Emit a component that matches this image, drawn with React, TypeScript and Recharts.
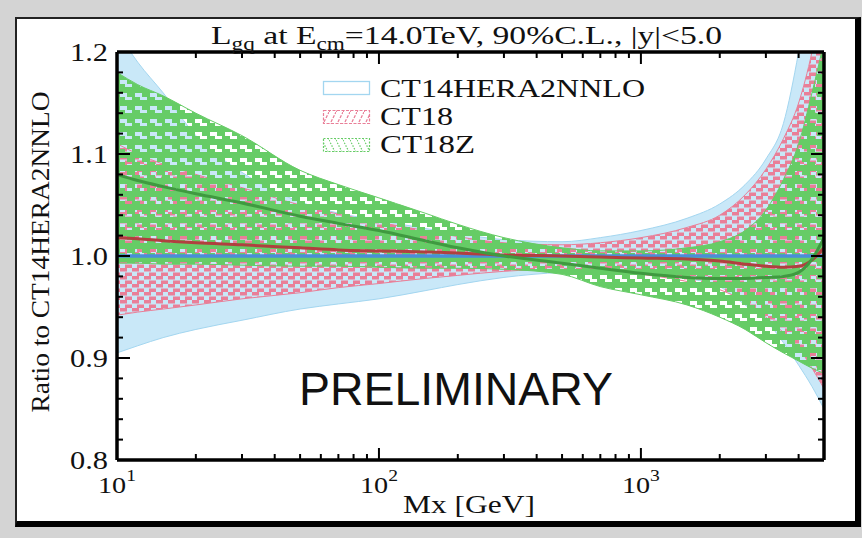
import React from 'react';
import { ComposedChart, Area, Line, XAxis, YAxis } from 'recharts';

// ---------- data ----------
const mx = [10, 12, 15, 20, 30, 50, 70, 100, 150, 200, 300, 500, 700, 1000, 1500, 2000, 2500, 3000, 3500, 4000, 4500, 5000];

const ct14Up = [1.22, 1.19, 1.16, 1.118, 1.082, 1.053, 1.042, 1.035, 1.027, 1.022, 1.016, 1.014, 1.018, 1.025, 1.037, 1.051, 1.07, 1.095, 1.13, 1.2, 1.28, 1.36];
const ct14Lo = [0.905, 0.912, 0.92, 0.928, 0.937, 0.948, 0.953, 0.958, 0.966, 0.972, 0.979, 0.984, 0.985, 0.983, 0.978, 0.97, 0.952, 0.937, 0.915, 0.893, 0.872, 0.85];
const ct14Mid = [1.0, 1.0, 1.0, 1.0, 1.0, 1.0, 1.0, 1.0, 1.0, 1.0, 1.0, 1.0, 1.0, 1.0, 1.0, 1.0, 1.0, 1.0, 1.0, 1.0, 1.0, 1.0];

const ct18Up = [1.11, 1.1, 1.09, 1.08, 1.067, 1.05, 1.041, 1.033, 1.025, 1.019, 1.013, 1.011, 1.013, 1.018, 1.028, 1.04, 1.06, 1.085, 1.115, 1.15, 1.2, 1.26];
const ct18Lo = [0.942, 0.945, 0.948, 0.952, 0.958, 0.964, 0.969, 0.973, 0.978, 0.981, 0.985, 0.987, 0.986, 0.982, 0.975, 0.967, 0.955, 0.94, 0.925, 0.91, 0.89, 0.87];
const ct18Mid = [1.018, 1.017, 1.015, 1.013, 1.011, 1.008, 1.006, 1.005, 1.004, 1.003, 1.001, 1.0, 0.999, 0.998, 0.997, 0.995, 0.992, 0.99, 0.989, 0.99, 0.996, 1.008];

const ct18zUp = [1.18, 1.168, 1.157, 1.14, 1.118, 1.084, 1.07, 1.057, 1.042, 1.031, 1.018, 1.008, 1.005, 1.005, 1.008, 1.014, 1.025, 1.045, 1.075, 1.11, 1.16, 1.21];
const ct18zLo = [0.993, 0.993, 0.992, 0.992, 0.991, 0.99, 0.99, 0.989, 0.988, 0.988, 0.987, 0.982, 0.97, 0.962, 0.952, 0.94, 0.928, 0.915, 0.905, 0.897, 0.89, 0.885];
const ct18zMid = [1.08, 1.074, 1.068, 1.061, 1.052, 1.039, 1.032, 1.025, 1.015, 1.008, 1.0, 0.993, 0.988, 0.983, 0.979, 0.978, 0.978, 0.979, 0.98, 0.984, 0.997, 1.018];

const xMajorTicks = [10, 100, 1000];
const xMajorExp = ['1', '2', '3'];
const xMinorTicks = [20, 30, 40, 50, 60, 70, 80, 90, 200, 300, 400, 500, 600, 700, 800, 900, 2000, 3000, 4000];
const yMajorTicks = [0.8, 0.9, 1.0, 1.1, 1.2];
const yTickLabels = ['0.8', '0.9', '1.0', '1.1', '1.2'];
const yMinorTicks = [0.82, 0.84, 0.86, 0.88, 0.92, 0.94, 0.96, 0.98, 1.02, 1.04, 1.06, 1.08, 1.12, 1.14, 1.16, 1.18];

const legendNames = ['CT14HERA2NNLO', 'CT18', 'CT18Z'];
const titleParts = ['L', 'gq', ' at E', 'cm', '=14.0TeV, 90%C.L., |y|<5.0'];
const yLabel = 'Ratio to CT14HERA2NNLO';
const xLabel = 'Mx [GeV]';
const watermark = 'PRELIMINARY';

const rows = mx.map((m, i) => ({
  mx: m,
  ct14Band: [ct14Lo[i], ct14Up[i]],
  ct18Band: [ct18Lo[i], ct18Up[i]],
  ct18zBand: [ct18zLo[i], ct18zUp[i]],
  ct14: ct14Mid[i],
  ct18: ct18Mid[i],
  ct18z: ct18zMid[i],
}));

const xTicks = [...xMajorTicks, ...xMinorTicks];
const yTicks = [...yMajorTicks, ...yMinorTicks];

const SERIF = '"Liberation Serif", "Times New Roman", Times, serif';
const SANS = '"Liberation Sans", Arial, sans-serif';

const BLUE_FILL = '#c9e8f8';
const BLUE_EDGE = '#a3d6f0';
const PINK = '#e97f98';
const GREEN = '#66cc66';

// ---------- tick renderers ----------
function BottomTick(props: any) {
  const { x, y, payload } = props;
  const i = xMajorTicks.indexOf(payload.value);
  const major = i >= 0;
  return (
    <g>
      <line x1={x} x2={x} y1={y} y2={y - (major ? 12 : 6)} stroke="#000" strokeWidth={2} />
      {major && (
        <text x={x} y={y + 33} textAnchor="middle" fontFamily={SERIF} fontSize={23} fill="#111"
          textLength={38} lengthAdjust="spacingAndGlyphs">
          10<tspan dy={-12} fontSize={16}>{xMajorExp[i]}</tspan>
        </text>
      )}
    </g>
  );
}

function TopTick(props: any) {
  const { x, y, payload } = props;
  const major = xMajorTicks.indexOf(payload.value) >= 0;
  return <line x1={x} x2={x} y1={y} y2={y + (major ? 12 : 6)} stroke="#000" strokeWidth={2} />;
}

function LeftTick(props: any) {
  const { x, y, payload } = props;
  const i = yMajorTicks.indexOf(payload.value);
  const major = i >= 0;
  return (
    <g>
      <line x1={x} x2={x + (major ? 13 : 6)} y1={y} y2={y} stroke="#000" strokeWidth={2} />
      {major && (
        <text x={x - 9} y={y + 9} textAnchor="end" fontFamily={SERIF} fontSize={26} fill="#111"
          textLength={38} lengthAdjust="spacingAndGlyphs">
          {yTickLabels[i]}
        </text>
      )}
    </g>
  );
}

function RightTick(props: any) {
  const { x, y, payload } = props;
  const major = yMajorTicks.indexOf(payload.value) >= 0;
  return <line x1={x} x2={x - (major ? 13 : 6)} y1={y} y2={y} stroke="#000" strokeWidth={2} />;
}

// ---------- component ----------
export default function App() {
  const axisLine = { stroke: '#000', strokeWidth: 3.5 };
  return (
    <div style={{ position: 'absolute', left: 0, top: 0, width: 862, height: 538, background: '#d4d4d4', overflow: 'hidden' }}>
      <div style={{
        position: 'absolute', left: 15, top: 17, width: 846, height: 510, boxSizing: 'border-box',
        background: '#fff', borderTop: '2px solid #222', borderLeft: '2px solid #222',
        borderRight: '6px solid #000', borderBottom: '6px solid #000',
      }} />
      <div style={{ position: 'absolute', left: 0, top: 0 }}>
        <ComposedChart width={862} height={538} data={rows}
          margin={{ top: 42, right: 28, bottom: 48, left: 57 }}>
          <defs>
            <pattern id="pinkHatch" patternUnits="userSpaceOnUse" width={12} height={8}>
              <rect x={0} y={4} width={7} height={3.5} fill={PINK} />
              <rect x={5} y={0.5} width={7} height={3.5} fill={PINK} />
            </pattern>
            <pattern id="greenHatch" patternUnits="userSpaceOnUse" width={15} height={13}>
              <path d="M0 0H15V13H0Z M0 2H7V6H12V9H5V6H0Z" fill={GREEN} fillRule="evenodd" />
            </pattern>
          </defs>
          <XAxis xAxisId="b" dataKey="mx" type="number" scale="log" domain={[10, 5000]} allowDataOverflow
            ticks={xTicks} interval={0} tickLine={false} tickSize={0} tickMargin={0}
            tick={<BottomTick />} axisLine={axisLine} height={30} />
          <XAxis xAxisId="t" orientation="top" dataKey="mx" type="number" scale="log" domain={[10, 5000]} allowDataOverflow
            ticks={xTicks} interval={0} tickLine={false} tickSize={0} tickMargin={0}
            tick={<TopTick />} axisLine={axisLine} height={10} />
          <YAxis yAxisId="l" type="number" domain={[0.8, 1.2]} allowDataOverflow ticks={yTicks} interval={0}
            tickLine={false} tickSize={0} tickMargin={0} tick={<LeftTick />} axisLine={axisLine} width={60} />
          <YAxis yAxisId="r" orientation="right" type="number" domain={[0.8, 1.2]} allowDataOverflow ticks={yTicks} interval={0}
            tickLine={false} tickSize={0} tickMargin={0} tick={<RightTick />} axisLine={axisLine} width={10} />

          <Area xAxisId="b" yAxisId="l" type="monotone" dataKey="ct14Band" fill={BLUE_FILL} fillOpacity={1}
            stroke={BLUE_EDGE} strokeWidth={1} isAnimationActive={false} dot={false} activeDot={false} />
          <Area xAxisId="b" yAxisId="l" type="monotone" dataKey="ct18Band" fill="url(#pinkHatch)" fillOpacity={1}
            stroke={PINK} strokeWidth={1} isAnimationActive={false} dot={false} activeDot={false} />
          <Area xAxisId="b" yAxisId="l" type="monotone" dataKey="ct18zBand" fill="url(#greenHatch)" fillOpacity={1}
            stroke={GREEN} strokeWidth={1} isAnimationActive={false} dot={false} activeDot={false} />

          <Line xAxisId="b" yAxisId="l" type="monotone" dataKey="ct14" stroke="#4a8ed8" strokeWidth={3.5}
            dot={false} activeDot={false} isAnimationActive={false} />
          <Line xAxisId="b" yAxisId="l" type="monotone" dataKey="ct18" stroke="#b0403f" strokeWidth={3}
            dot={false} activeDot={false} isAnimationActive={false} />
          <Line xAxisId="b" yAxisId="l" type="monotone" dataKey="ct18z" stroke="#3f9a40" strokeWidth={3}
            dot={false} activeDot={false} isAnimationActive={false} />
        </ComposedChart>
      </div>

      <svg width={862} height={538} style={{ position: 'absolute', left: 0, top: 0, pointerEvents: 'none' }}>
        <defs>
          <pattern id="legPink" patternUnits="userSpaceOnUse" width={7} height={14}>
            <line x1={0} y1={14} x2={7} y2={0} stroke={PINK} strokeWidth={1.3} strokeDasharray="3 1.5" />
          </pattern>
          <pattern id="legGreen" patternUnits="userSpaceOnUse" width={7} height={14}>
            <line x1={0} y1={0} x2={7} y2={14} stroke={GREEN} strokeWidth={1.2} strokeDasharray="1.5 1.5" />
          </pattern>
        </defs>
        {/* title */}
        <text x={211} y={44} fontFamily={SERIF} fontSize={26} fill="#111" textLength={511} lengthAdjust="spacingAndGlyphs">
          {titleParts[0]}
          <tspan dy={6} fontSize={18}>{titleParts[1]}</tspan>
          <tspan dy={-6}>{titleParts[2]}</tspan>
          <tspan dy={6} fontSize={18}>{titleParts[3]}</tspan>
          <tspan dy={-6}>{titleParts[4]}</tspan>
        </text>
        {/* y label */}
        <text transform="translate(49,252) rotate(-90)" textAnchor="middle" fontFamily={SERIF} fontSize={25}
          fill="#111" textLength={321} lengthAdjust="spacingAndGlyphs">
          {yLabel}
        </text>
        {/* x label */}
        <text x={403} y={513} fontFamily={SERIF} fontSize={25} fill="#111" textLength={132} lengthAdjust="spacingAndGlyphs">
          {xLabel}
        </text>
        {/* legend */}
        <rect x={323.5} y={81.5} width={46} height={13} fill="#fff" stroke={BLUE_EDGE} strokeWidth={1.3} />
        <rect x={323.5} y={110.5} width={46} height={13} fill="url(#legPink)" stroke={PINK} strokeWidth={1.2} strokeDasharray="3 1.5" />
        <rect x={323.5} y={138.5} width={46} height={13} fill="url(#legGreen)" stroke={GREEN} strokeWidth={1.2} strokeDasharray="2 1.5" />
        <text x={380} y={97} fontFamily={SERIF} fontSize={25} fill="#111" textLength={265} lengthAdjust="spacingAndGlyphs">{legendNames[0]}</text>
        <text x={380} y={125} fontFamily={SERIF} fontSize={25} fill="#111" textLength={73} lengthAdjust="spacingAndGlyphs">{legendNames[1]}</text>
        <text x={380} y={153} fontFamily={SERIF} fontSize={25} fill="#111" textLength={95} lengthAdjust="spacingAndGlyphs">{legendNames[2]}</text>
        {/* watermark */}
        <text x={299} y={405} fontFamily={SANS} fontSize={47} fill="#111" textLength={314} lengthAdjust="spacingAndGlyphs">{watermark}</text>
      </svg>
    </div>
  );
}
